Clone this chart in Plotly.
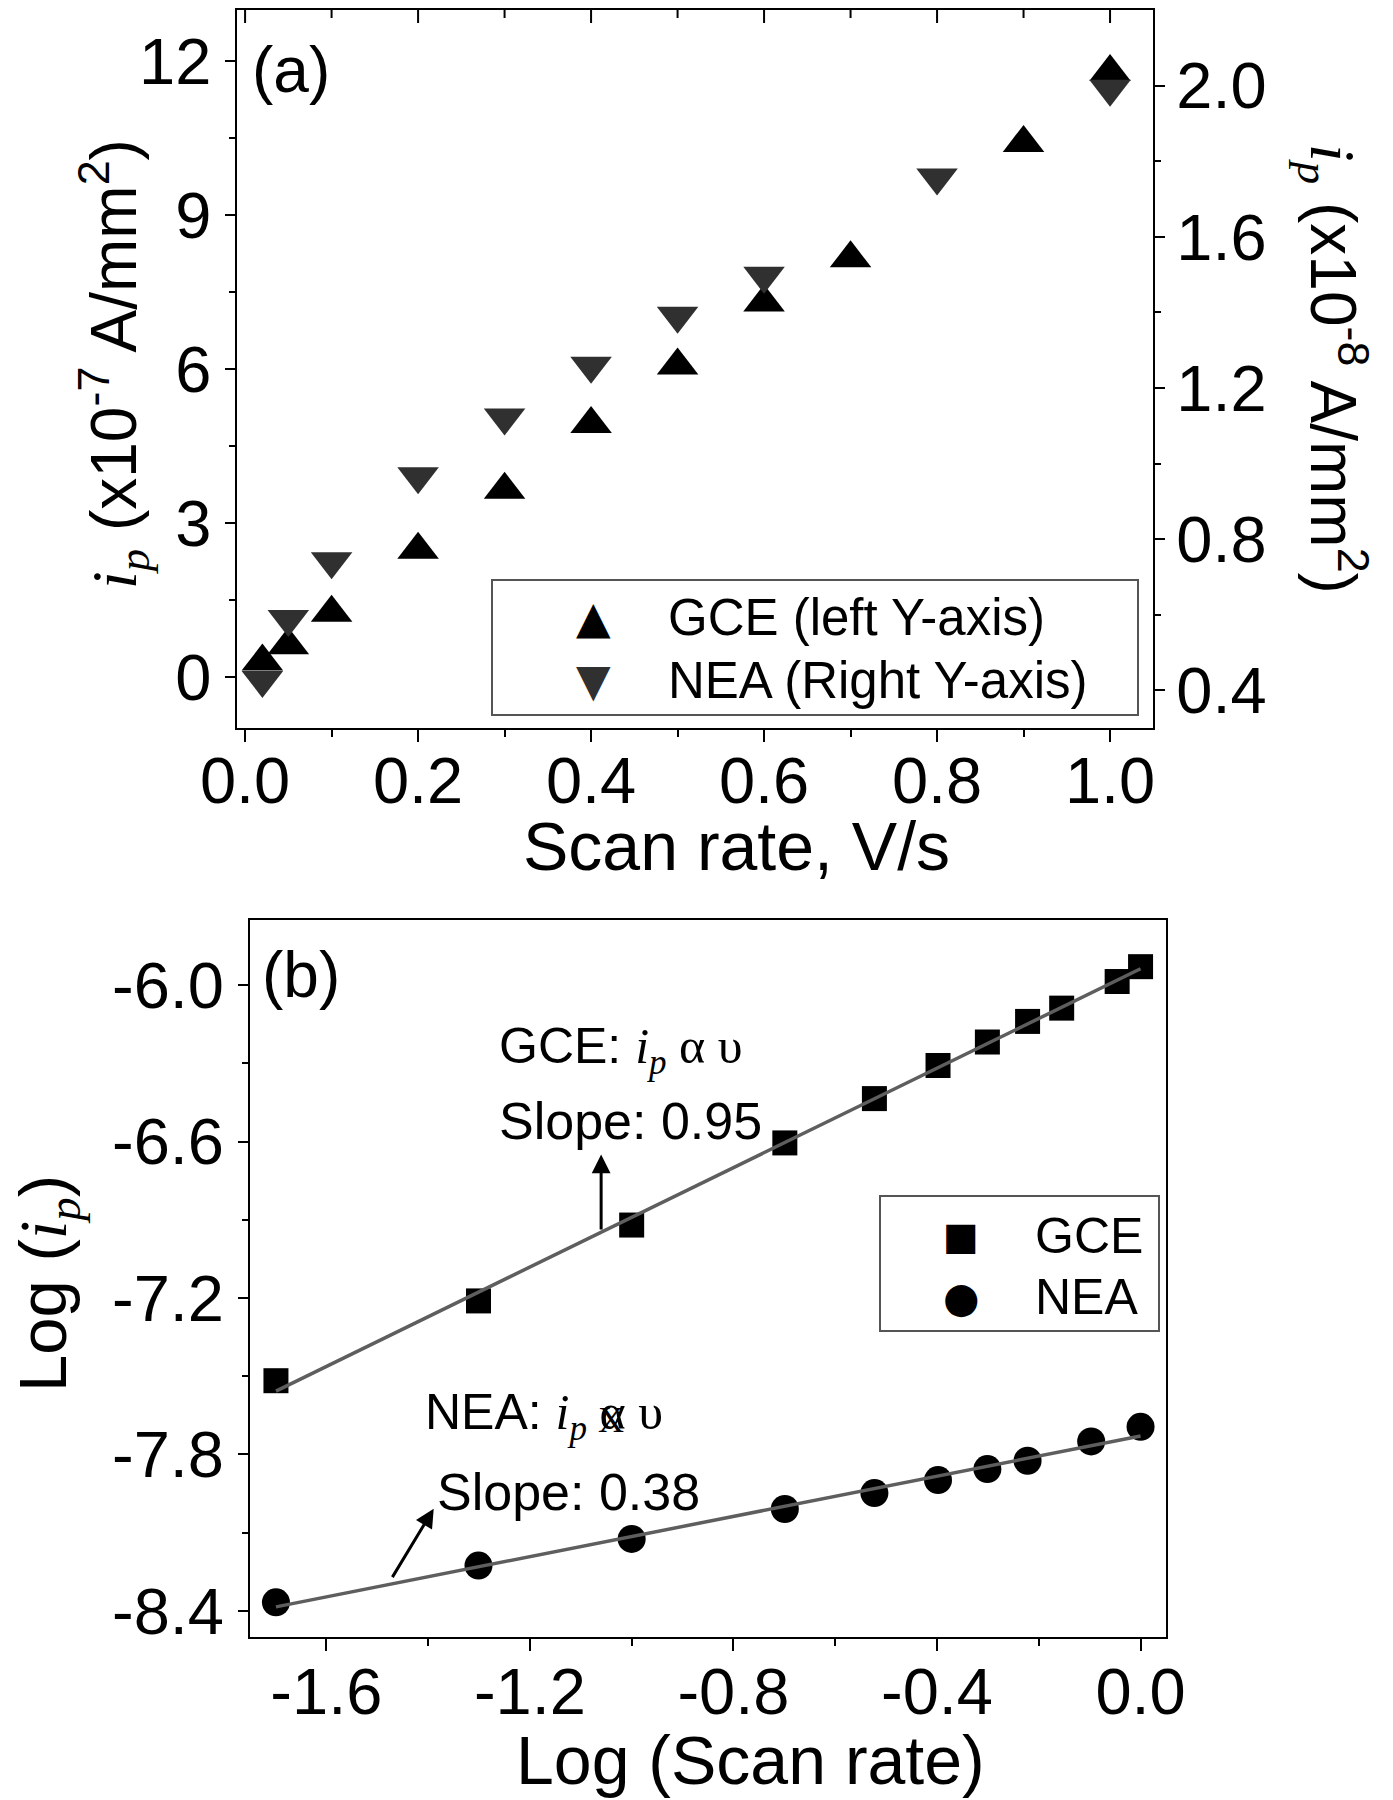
import numpy as np
import plotly.graph_objects as go

W, H = 1393, 1800
SANS = "Liberation Sans, Arial, sans-serif"
SERIF = "Liberation Serif, Times New Roman, serif"
SYM = "DejaVu Sans, sans-serif"

# ---------------- Panel (a) data ----------------
scan_rate_gce = [0.02, 0.05, 0.1, 0.2, 0.3, 0.4, 0.5, 0.6, 0.7, 0.9, 1.0]
ip_gce = [0.30, 0.62, 1.25, 2.48, 3.65, 4.93, 6.07, 7.30, 8.16, 10.41, 11.79]      # x1e-7 A/mm2
scan_rate_nea = [0.02, 0.05, 0.1, 0.2, 0.3, 0.4, 0.5, 0.6, 0.8, 1.0]
ip_nea = [0.428, 0.589, 0.742, 0.967, 1.122, 1.259, 1.391, 1.497, 1.757, 1.992]  # x1e-8 A/mm2

# ---------------- Panel (b) data ----------------
log_rate_gce = [-1.699, -1.301, -1.0, -0.699, -0.523, -0.398, -0.301, -0.222, -0.155, -0.046, 0.0]
log_ip_gce = [-7.517, -7.211, -6.920, -6.605, -6.435, -6.308, -6.218, -6.139, -6.088, -5.986, -5.929]
log_rate_nea = [-1.699, -1.301, -1.0, -0.699, -0.523, -0.398, -0.301, -0.222, -0.097, 0.0]
log_ip_nea = [-8.367, -8.226, -8.124, -8.009, -7.948, -7.898, -7.856, -7.824, -7.750, -7.694]

# ---------------- Tick labels ----------------
xa_tickvals = [0.0, 0.2, 0.4, 0.6, 0.8, 1.0]
xa_ticktext = ["0.0", "0.2", "0.4", "0.6", "0.8", "1.0"]
xa_minor = [0.1, 0.3, 0.5, 0.7, 0.9]
ya_tickvals = [0, 3, 6, 9, 12]
ya_ticktext = ["0", "3", "6", "9", "12"]
ya2_tickvals = [0.4, 0.8, 1.2, 1.6, 2.0]
ya2_ticktext = ["0.4", "0.8", "1.2", "1.6", "2.0"]
xb_tickvals = [-1.6, -1.2, -0.8, -0.4, 0.0]
xb_ticktext = ["-1.6", "-1.2", "-0.8", "-0.4", "0.0"]
yb_tickvals = [-8.4, -7.8, -7.2, -6.6, -6.0]
yb_ticktext = ["-8.4", "-7.8", "-7.2", "-6.6", "-6.0"]


def px(x):
    return x / W


def py(y):
    return 1 - y / H


XA_DOMAIN = [px(237.3), px(1153.3)]
XA_RANGE = [-0.009, 1.05]

fig = go.Figure()

# Panel (a)
fig.add_trace(go.Scatter(x=scan_rate_gce, y=ip_gce, mode="markers", name="GCE (left Y-axis)",
                         marker=dict(symbol="triangle-up", size=36, color="black", line=dict(width=0)),
                         xaxis="x", yaxis="y", showlegend=False))
fig.add_trace(go.Scatter(x=scan_rate_nea, y=ip_nea, mode="markers", name="NEA (Right Y-axis)",
                         marker=dict(symbol="triangle-down", size=36, color="#303030", line=dict(width=0)),
                         xaxis="x", yaxis="y2", showlegend=False))

# Panel (b)
fig.add_trace(go.Scatter(x=log_rate_gce, y=log_ip_gce, mode="markers", name="GCE",
                         marker=dict(symbol="square", size=25, color="black", line=dict(width=0)),
                         xaxis="x2", yaxis="y3", showlegend=False))
fig.add_trace(go.Scatter(x=log_rate_nea, y=log_ip_nea, mode="markers", name="NEA",
                         marker=dict(symbol="circle", size=28, color="black", line=dict(width=0)),
                         xaxis="x2", yaxis="y3", showlegend=False))

for xs, ys in [(log_rate_gce, log_ip_gce), (log_rate_nea, log_ip_nea)]:
    k, b = np.polyfit(xs, ys, 1)
    fx = np.array([min(xs), max(xs)])
    fig.add_trace(go.Scatter(x=fx, y=k * fx + b, mode="lines",
                             line=dict(color="#5e5e5e", width=3.5),
                             xaxis="x2", yaxis="y3", showlegend=False, hoverinfo="skip"))

TF = dict(family=SANS, size=65, color="black")
common = dict(showgrid=False, zeroline=False, showline=True, linecolor="black", linewidth=2,
              tickcolor="black", tickwidth=2, tickfont=TF, automargin=False)

fig.update_layout(
    template="none",
    width=W, height=H,
    margin=dict(l=0, r=0, t=0, b=0, pad=0, autoexpand=False),
    paper_bgcolor="white", plot_bgcolor="white",
    showlegend=False,
    xaxis=dict(domain=XA_DOMAIN, anchor="y", range=XA_RANGE,
               ticks="outside", ticklen=12, tickvals=xa_tickvals, ticktext=xa_ticktext,
               minor=dict(tickvals=xa_minor, ticks="outside", ticklen=7,
                          tickwidth=2, tickcolor="black"),
               mirror=True, ticklabelstandoff=-17, **common),
    yaxis=dict(domain=[py(728.3), py(10)], anchor="x", range=[-1, 13],
               ticks="outside", ticklen=10, tickvals=ya_tickvals, ticktext=ya_ticktext,
               minor=dict(tickvals=[1.5, 4.5, 7.5, 10.5], ticks="outside", ticklen=6,
                          tickwidth=2, tickcolor="black"),
               ticklabelstandoff=1, **common),
    yaxis2=dict(overlaying="y", anchor="x", side="right", range=[0.3, 2.2],
                ticks="outside", ticklen=10, tickvals=ya2_tickvals, ticktext=ya2_ticktext,
                minor=dict(tickvals=[0.6, 1.0, 1.4, 1.8], ticks="outside", ticklen=6,
                           tickwidth=2, tickcolor="black"),
                ticklabelstandoff=-2, **common),
    xaxis2=dict(domain=[px(250), px(1166)], anchor="y3", range=[-1.75, 0.05],
                ticks="outside", ticklen=12, tickvals=xb_tickvals, ticktext=xb_ticktext,
                minor=dict(tickvals=[-1.4, -1.0, -0.6, -0.2], ticks="outside", ticklen=7,
                           tickwidth=2, tickcolor="black"),
                mirror=True, ticklabelstandoff=-15, **common),
    yaxis3=dict(domain=[py(1637), py(920)], anchor="x2", range=[-8.5, -5.75],
                ticks="outside", ticklen=10, tickvals=yb_tickvals, ticktext=yb_ticktext,
                minor=dict(tickvals=[-8.1, -7.5, -6.9, -6.3], ticks="outside", ticklen=6,
                           tickwidth=2, tickcolor="black"),
                mirror=True, ticklabelstandoff=1, **common),
)

ip_html = ("<span style='font-family:Liberation Serif'><i>i</i></span>"
           "<sub><span style='font-family:Liberation Serif'><i>p</i></span></sub>")

ann = []


def text(x, y, s, size, xanchor="left", yanchor="middle", angle=0, family=SANS, color="black"):
    ann.append(dict(x=px(x), y=py(y), xref="paper", yref="paper", text=s, showarrow=False,
                    xanchor=xanchor, yanchor=yanchor, textangle=angle,
                    font=dict(family=family, size=size, color=color)))


# panel labels
text(250, 70, "(a)", 64)
text(260, 975, "(b)", 64)

# axis titles
text(114, 364, ip_html + " (x10<sup>-7</sup> A/mm<sup>2</sup>)", 64, "center", "middle", -90)
text(1333, 369, ip_html + " (x10<sup>-8</sup> A/mm<sup>2</sup>)", 64, "center", "middle", 90)
text(736, 846, "Scan rate, V/s", 68, "center", "middle")
text(47, 1284, "Log (" + ip_html + ")", 67, "center", "middle", -90)
text(751, 1760, "Log (Scan rate)", 68, "center", "middle")

# legend (a)
text(593, 618, "▲", 45, "center", "middle", family=SYM)
text(593, 680, "▼", 45, "center", "middle", family=SYM, color="#303030")
text(666, 618, "GCE (left Y-axis)", 51)
text(666, 680, "NEA (Right Y-axis)", 51)

# legend (b)
text(961, 1236, "■", 38, "center", "middle", family=SYM)
text(961, 1297, "●", 42, "center", "middle", family=SYM)
text(1033, 1236, "GCE", 50)
text(1033, 1297, "NEA", 50)

# panel (b) notes
text(497, 1050, "GCE: " + ip_html + "<span style='font-family:Liberation Serif'> α υ</span>", 50)
text(497, 1121, "Slope: 0.95", 52)
text(423, 1416, "NEA: " + ip_html + "<span style='font-family:Liberation Serif'> α υ</span>", 50)
text(611, 1420, "X", 36, "center", "middle", family=SERIF)
text(435, 1492, "Slope: 0.38", 52)

# arrows (panel b, data coordinates)
for (hx, hy, tx, ty) in [(-1.06, -6.649, -1.06, -6.943), (-1.389, -8.008, -1.472, -8.276)]:
    ann.append(dict(x=hx, y=hy, ax=tx, ay=ty, xref="x2", yref="y3", axref="x2", ayref="y3",
                    text="", showarrow=True, arrowhead=2, arrowsize=1.25, arrowwidth=3,
                    arrowcolor="black"))

fig.update_layout(annotations=ann)

shapes = [
    dict(type="rect", xref="paper", yref="paper", x0=px(492), x1=px(1138), y0=py(715), y1=py(580),
         line=dict(color="#555555", width=2), fillcolor="rgba(0,0,0,0)"),
    dict(type="rect", xref="paper", yref="paper", x0=px(880), x1=px(1159), y0=py(1331), y1=py(1196),
         line=dict(color="#555555", width=2), fillcolor="rgba(0,0,0,0)"),
]
# inward ticks along the top frame of panel (a), placed through the x scale
for v in xa_tickvals:
    shapes.append(dict(type="line", xref="x", yref="paper", x0=v, x1=v, y0=py(10), y1=py(23),
                       line=dict(color="black", width=2)))
for v in xa_minor:
    shapes.append(dict(type="line", xref="x", yref="paper", x0=v, x1=v, y0=py(10), y1=py(18),
                       line=dict(color="black", width=2)))
fig.update_layout(shapes=shapes)

fig.write_html("out.html", config={"displayModeBar": False},
               post_script="document.body.style.margin='0px';")
